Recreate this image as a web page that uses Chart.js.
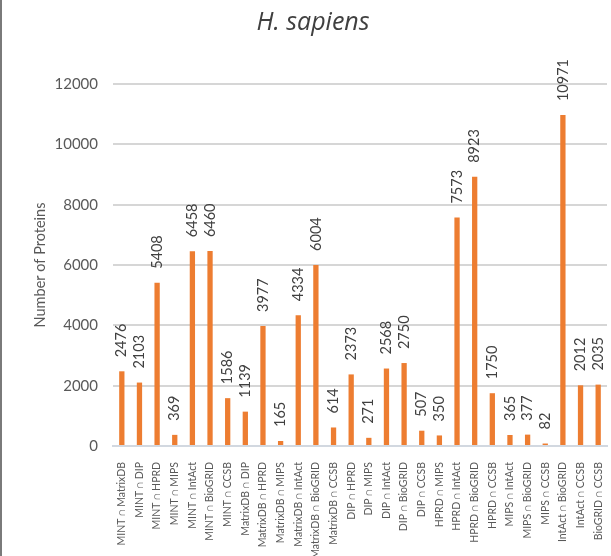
<!DOCTYPE html>
<html>
<head>
<meta charset="utf-8">
<script src="https://cdn.jsdelivr.net/npm/chart.js@4.4.1/dist/chart.umd.min.js"></script>
<style>
    html, body { margin: 0; padding: 0; background: #fff; }
    #wrap { position: relative; width: 611px; height: 556px; box-sizing: border-box; border-left: 2px solid #7a7a7a; }
    canvas { display: block; }
</style>
</head>
<body>
<div id="wrap"><canvas id="overlapChart" width="609" height="556"></canvas></div>
<script>
// Pairwise overlaps between databases (H. sapiens)
const pairLabels = [
    'MINT ∩ MatrixDB', 'MINT ∩ DIP', 'MINT ∩ HPRD', 'MINT ∩ MIPS', 'MINT ∩ IntAct',
    'MINT ∩ BioGRID', 'MINT ∩ CCSB', 'MatrixDB ∩ DIP', 'MatrixDB ∩ HPRD', 'MatrixDB ∩ MIPS',
    'MatrixDB ∩ IntAct', 'MatrixDB ∩ BioGRID', 'MatrixDB ∩ CCSB', 'DIP ∩ HPRD', 'DIP ∩ MIPS',
    'DIP ∩ IntAct', 'DIP ∩ BioGRID', 'DIP ∩ CCSB', 'HPRD ∩ MIPS', 'HPRD ∩ IntAct',
    'HPRD ∩ BioGRID', 'HPRD ∩ CCSB', 'MIPS ∩ IntAct', 'MIPS ∩ BioGRID', 'MIPS ∩ CCSB',
    'IntAct ∩ BioGRID', 'IntAct ∩ CCSB', 'BioGRID ∩ CCSB'
];
const proteinCounts = [
    2476, 2103, 5408, 369, 6458,
    6460, 1586, 1139, 3977, 165,
    4334, 6004, 614, 2373, 271,
    2568, 2750, 507, 350, 7573,
    8923, 1750, 365, 377, 82,
    10971, 2012, 2035
];
const yTicks = [0, 2000, 4000, 6000, 8000, 10000, 12000];

const FONT = 'Lato, "Open Sans", sans-serif';

// draws the vertical value above every bar
const barValueLabels = {
    id: 'barValueLabels',
    afterDatasetsDraw(chart) {
        const ctx = chart.ctx;
        const meta = chart.getDatasetMeta(0);
        ctx.save();
        ctx.fillStyle = '#404040';
        ctx.font = '14.5px ' + FONT;
        ctx.textAlign = 'left';
        ctx.textBaseline = 'middle';
        meta.data.forEach((bar, i) => {
            ctx.save();
            ctx.translate(bar.x, bar.y - 14);
            ctx.rotate(-Math.PI / 2);
            ctx.fillText(String(proteinCounts[i]), 0, 0);
            ctx.restore();
        });
        ctx.restore();
    }
};

new Chart(document.getElementById('overlapChart'), {
    type: 'bar',
    data: {
        labels: pairLabels,
        datasets: [{
            label: 'Number of Proteins',
            data: proteinCounts,
            backgroundColor: '#ed7d31',
            barPercentage: 0.3,
            categoryPercentage: 1.0
        }]
    },
    options: {
        responsive: false,
        animation: false,
        devicePixelRatio: 1,
        layout: { padding: { left: 17, right: 4, top: 0, bottom: 0 } },
        plugins: {
            legend: { display: false },
            tooltip: { enabled: false },
            title: {
                display: true,
                text: 'H. sapiens',
                color: '#404040',
                font: { family: '"Open Sans", sans-serif', size: 25, style: 'italic', weight: 'normal' },
                padding: { top: 8, bottom: 46 }
            }
        },
        scales: {
            x: {
                grid: { display: false },
                border: { color: '#d2d8e0', width: 2 },
                ticks: {
                    autoSkip: false,
                    maxRotation: 90,
                    minRotation: 90,
                    color: '#595959',
                    font: { family: FONT, size: 10.5 },
                    padding: 8
                },
                // fixed label band; rotated labels should not push the plot sideways
                afterFit: scale => {
                    scale.height = 110;
                    scale.paddingLeft = 0;
                    scale.paddingRight = 0;
                }
            },
            y: {
                min: yTicks[0],
                max: yTicks[yTicks.length - 1],
                afterFit: scale => { scale.width = 94; },
                grid: { color: '#d6d6d6', lineWidth: 2, tickLength: 0 },
                border: { display: false },
                ticks: {
                    stepSize: yTicks[1] - yTicks[0],
                    color: '#595959',
                    font: { family: FONT, size: 15 },
                    padding: 15,
                    callback: value => String(value)
                },
                title: {
                    display: true,
                    text: 'Number of Proteins',
                    color: '#595959',
                    font: { family: FONT, size: 14.5 },
                    padding: { top: 13, bottom: 0 }
                }
            }
        }
    },
    plugins: [barValueLabels]
});
</script>
</body>
</html>
